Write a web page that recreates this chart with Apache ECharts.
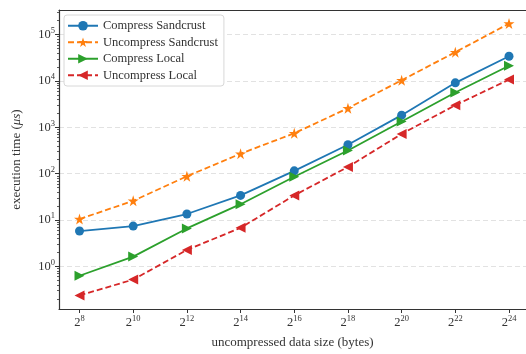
<!DOCTYPE html>
<html>
<head>
<meta charset="utf-8">
<script src="https://cdn.jsdelivr.net/npm/echarts@6/dist/echarts.min.js"></script>
<style>
  html, body { margin: 0; padding: 0; background: #fff; }
  #chart { width: 526px; height: 354px; }
</style>
</head>
<body>
<div id="chart"></div>
<script>
// data size exponents (bytes = 2^n)
var sizeExponents = [8, 10, 12, 14, 16, 18, 20, 22, 24];

// execution time in microseconds
var compressSandcrust   = [5.8, 7.4, 13.5, 34, 115, 420, 1830, 9100, 34000];
var uncompressSandcrust = [10.5, 26, 88, 270, 745, 2580, 10350, 41700, 173000];
var compressLocal       = [0.63, 1.63, 6.6, 22, 86, 317, 1340, 5650, 21300];
var uncompressLocal     = [0.237, 0.52, 2.27, 6.8, 34, 140, 720, 3000, 10700];

var yMajorTicks = [0.1, 1, 10, 100, 1000, 10000, 100000];

var sizes = sizeExponents.map(function (e) { return Math.pow(2, e); });

// matplotlib style log minor ticks 2..9 in each decade
var yMinorTicks = [];
yMajorTicks.forEach(function (d) {
    for (var m = 2; m <= 9; m++) { yMinorTicks.push(d * m); }
});

var FONT = '"Liberation Serif", "DejaVu Serif", serif';
var TEXT_COLOR = '#333';
var X_MIN = Math.pow(2, 7.236);
var X_MAX = Math.pow(2, 24.633);
var Y_MIN = Math.pow(10, -0.918);
var Y_MAX = Math.pow(10, 5.53);

var starPath = 'path://M50,0L61.2,34.5L97.6,34.5L68.2,55.9L79.4,90.5L50,69.1L20.6,90.5L31.8,55.9L2.4,34.5L38.8,34.5Z';
var triRight = 'path://M0,0L10,5L0,10Z';
var triLeft  = 'path://M10,0L0,5L10,10Z';

function pairs(values) {
    return values.map(function (v, i) { return [sizes[i], v]; });
}

function powLabel(base, exp) {
    return '{b|' + base + '}{s|' + exp + '}';
}

var supRich = {
    b: { fontFamily: FONT, fontSize: 12.5, color: TEXT_COLOR },
    s: { fontFamily: FONT, fontSize: 8.5, color: TEXT_COLOR, padding: [0, 0, 8, 0] }
};

function makeSeries(name, values, color, symbol, size, dashed) {
    return {
        name: name,
        type: 'line',
        data: pairs(values),
        symbol: symbol,
        symbolSize: size,
        showSymbol: true,
        lineStyle: { color: color, width: 1.8, type: dashed ? [6, 3] : 'solid' },
        itemStyle: { color: color },
        emphasis: { disabled: true },
        z: 3
    };
}

var chart = echarts.init(document.getElementById('chart'), null, { renderer: 'canvas' });

var options = {
    animation: false,
    backgroundColor: '#fff',
    grid: {
        left: 59,
        right: 0,
        top: 10,
        bottom: 42
    },
    legend: {
        left: 64,
        top: 15,
        orient: 'vertical',
        padding: [4, 6, 4, 3],
        itemGap: 3,
        itemWidth: 30,
        itemHeight: 12,
        backgroundColor: '#fff',
        borderColor: '#d8d8d8',
        borderWidth: 1,
        borderRadius: 3,
        textStyle: { fontFamily: FONT, fontSize: 12.5, color: TEXT_COLOR, lineHeight: 13.5 },
        data: ['Compress Sandcrust', 'Uncompress Sandcrust', 'Compress Local', 'Uncompress Local']
    },
    xAxis: [
        {
            type: 'log',
            logBase: 2,
            min: X_MIN,
            max: X_MAX,
            name: 'uncompressed data size (bytes)',
            nameLocation: 'middle',
            nameGap: 27,
            nameTextStyle: { fontFamily: FONT, fontSize: 13, color: TEXT_COLOR },
            axisLine: { show: true, lineStyle: { color: '#333', width: 1.2 } },
            axisTick: { show: true, length: 4, inside: false, customValues: sizes, lineStyle: { color: '#333', width: 1 } },
            axisLabel: {
                customValues: sizes,
                margin: 5,
                formatter: function (v) { return powLabel(2, Math.round(Math.log2(v))); },
                rich: supRich
            },
            splitLine: { show: false },
            minorTick: { show: false }
        },
        {
            // top spine
            type: 'log',
            logBase: 2,
            position: 'top',
            min: X_MIN,
            max: X_MAX,
            axisLine: { show: true, onZero: false, lineStyle: { color: '#333', width: 1.2 } },
            axisTick: { show: false },
            axisLabel: { show: false },
            splitLine: { show: false }
        }
    ],
    yAxis: [
        {
            type: 'log',
            logBase: 10,
            min: Y_MIN,
            max: Y_MAX,
            name: '{a|execution time (}{i|μs}{a|)}',
            nameLocation: 'middle',
            nameGap: 36,
            nameTextStyle: {
                rich: {
                    a: { fontFamily: FONT, fontSize: 13, color: TEXT_COLOR },
                    i: { fontFamily: FONT, fontSize: 13, color: TEXT_COLOR, fontStyle: 'italic' }
                }
            },
            axisLine: { show: true, lineStyle: { color: '#333', width: 1.2 } },
            axisTick: { show: true, length: 4, customValues: yMajorTicks, lineStyle: { color: '#333', width: 1 } },
            axisLabel: {
                customValues: yMajorTicks.slice(1),
                margin: 4,
                formatter: function (v) { return powLabel(10, Math.round(Math.log10(v))); },
                rich: supRich
            },
            splitLine: { show: true, lineStyle: { color: '#e2e2e2', width: 1, type: [5, 3] } }
        },
        {
            type: 'log',
            logBase: 10,
            position: 'left',
            min: Y_MIN,
            max: Y_MAX,
            axisLine: { show: false },
            axisTick: { show: true, length: 2, customValues: yMinorTicks, lineStyle: { color: '#333', width: 0.8 } },
            axisLabel: { show: false },
            splitLine: { show: false }
        }
    ],
    series: [
        makeSeries('Compress Sandcrust', compressSandcrust, '#1f77b4', 'circle', 9, false),
        makeSeries('Uncompress Sandcrust', uncompressSandcrust, '#ff7f0e', starPath, 11, true),
        makeSeries('Compress Local', compressLocal, '#2ca02c', triRight, 10, false),
        makeSeries('Uncompress Local', uncompressLocal, '#d62728', triLeft, 10, true)
    ]
};

chart.setOption(options, true);
</script>
</body>
</html>
